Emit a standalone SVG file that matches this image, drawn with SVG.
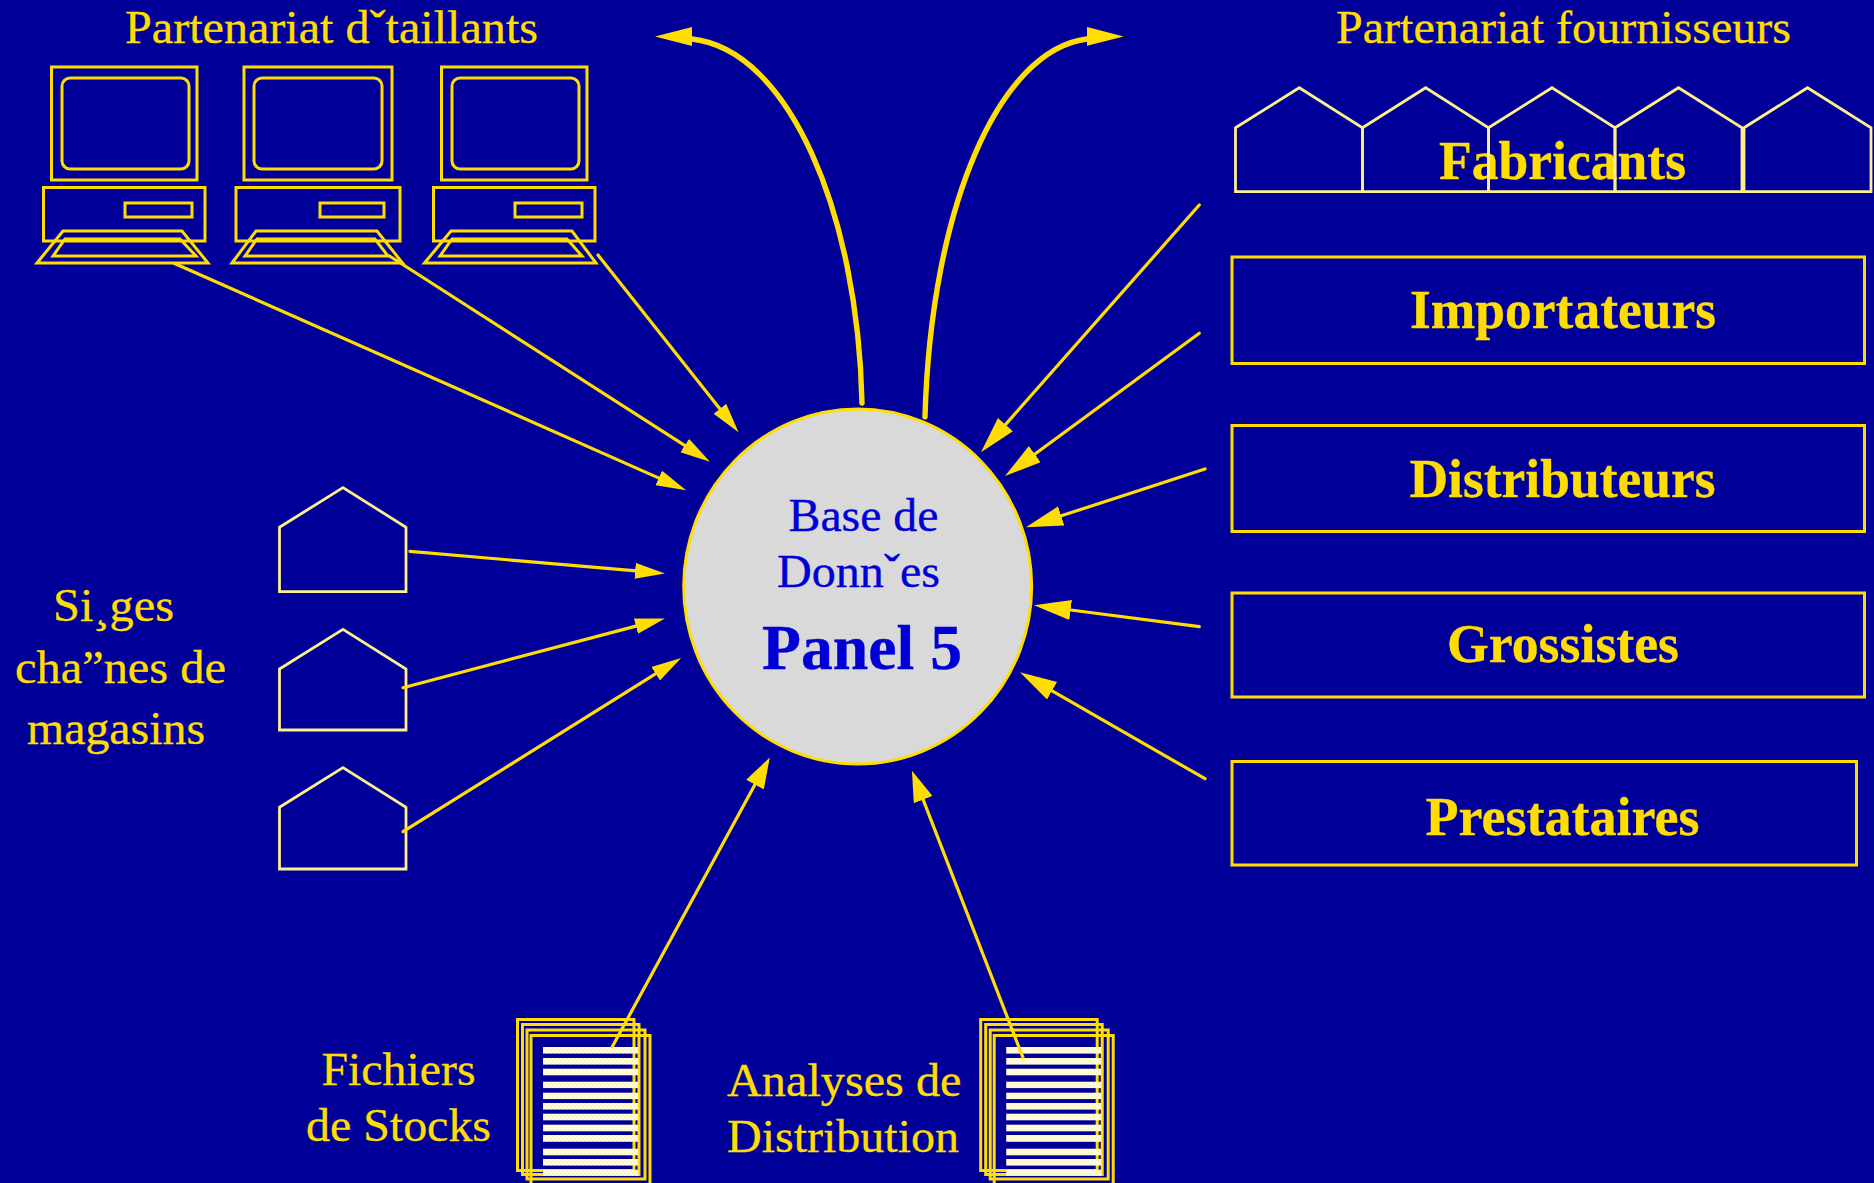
<svg xmlns="http://www.w3.org/2000/svg" xmlns:xlink="http://www.w3.org/1999/xlink" width="1874" height="1183" viewBox="0 0 1874 1183">
<style>
text{font-family:"Liberation Serif","Times New Roman",serif;fill:#FFDD00;stroke:#FFDD00;stroke-width:.35;font-size:47px}
.b{font-weight:bold;font-size:54px}
.blue{fill:#0000D6;stroke:#0000D6}
.o{fill:none;stroke:#FFDD00;stroke-width:3}
.h{fill:none;stroke:#FFEE8C;stroke-width:2.8}
.c{fill:none;stroke:#FFDD00;stroke-width:3.2;stroke-linecap:round}
.s{marker-end:url(#hs)}
.m{marker-end:url(#hm)}
.l{marker-end:url(#hl)}
.arc{fill:none;stroke:#FFDD00;stroke-width:5.4;stroke-linecap:round}
</style>
<defs>
<marker id="hs" markerUnits="userSpaceOnUse" markerWidth="32" markerHeight="18" refX="4" refY="8" orient="auto"><path d="M0 0L30 8L0 16Z" fill="#FFDD00"/></marker>
<marker id="hm" markerUnits="userSpaceOnUse" markerWidth="34" markerHeight="22" refX="4" refY="10" orient="auto"><path d="M0 0L31 10L0 20Z" fill="#FFDD00"/></marker>
<marker id="hl" markerUnits="userSpaceOnUse" markerWidth="39" markerHeight="22" refX="4" refY="10" orient="auto"><path d="M0 0L37 10L0 20Z" fill="#FFDD00"/></marker>
<marker id="al" markerUnits="userSpaceOnUse" markerWidth="39" markerHeight="21" refX="0" refY="6.9" orient="180"><path d="M0 0L37 9.5L0 19Z" fill="#FFDD00"/></marker>
<marker id="ar" markerUnits="userSpaceOnUse" markerWidth="39" markerHeight="21" refX="0" refY="12.1" orient="0"><path d="M0 0L37 9.5L0 19Z" fill="#FFDD00"/></marker>
<pattern id="dither" patternUnits="userSpaceOnUse" width="4" height="4"><rect width="4" height="4" fill="#FFFFF0"/><rect x="0" y="0" width="2" height="2" fill="#FFF6B8"/><rect x="2" y="2" width="2" height="2" fill="#FFF6B8"/></pattern>
<g id="stack">
<rect class="o" x="517.5" y="1019.5" width="116.5" height="151"/>
<rect class="o" x="522.5" y="1024.5" width="116.5" height="150"/>
<rect class="o" x="527" y="1030" width="118" height="149"/>
<rect class="o" x="531" y="1035.5" width="119" height="152"/>
<g fill="url(#dither)">
<rect x="543" y="1047" width="95" height="6.6"/><rect x="543" y="1058" width="95" height="6.6"/><rect x="543" y="1068.7" width="95" height="6.6"/><rect x="543" y="1081.7" width="95" height="6.4"/><rect x="543" y="1092.7" width="95" height="6.4"/><rect x="543" y="1103" width="95" height="6.6"/><rect x="543" y="1113.7" width="95" height="6.6"/><rect x="543" y="1124.7" width="95" height="6.6"/><rect x="543" y="1135" width="95" height="6.8"/><rect x="543" y="1148.7" width="95" height="6.6"/><rect x="543" y="1159" width="95" height="6.6"/><rect x="543" y="1169.7" width="95" height="6"/>
</g>
</g>
</defs>
<rect id="background" width="1874" height="1183" fill="#000099"/>
<g id="title-detaillants"><text x="125" y="42.7" textLength="413" lengthAdjust="spacingAndGlyphs">Partenariat dˇtaillants</text></g>
<g id="title-fournisseurs"><text x="1336" y="43" textLength="455" lengthAdjust="spacingAndGlyphs">Partenariat fournisseurs</text></g>
<g id="computer-1">
<rect class="o" x="51.5" y="67" width="145.5" height="113"/>
<rect class="o" x="62" y="78" width="127" height="91" rx="8"/>
<rect class="o" x="43.5" y="187.5" width="161.5" height="53.5"/>
<rect class="o" x="125" y="203" width="67" height="14"/>
<path class="o" d="M37 263L63 231H182L208 263Z"/>
<path class="o" d="M53 256L65 239H180L196 256Z"/>
</g>
<g id="computer-2">
<rect class="o" x="244" y="67" width="148" height="113"/>
<rect class="o" x="254" y="78" width="128" height="91" rx="8"/>
<rect class="o" x="236" y="187.5" width="164" height="53.5"/>
<rect class="o" x="320" y="203" width="64" height="14"/>
<path class="o" d="M232 263L256 231H377L402.5 263Z"/>
<path class="o" d="M245 256L257 239H375L388 256Z"/>
</g>
<g id="computer-3">
<rect class="o" x="441.5" y="67" width="145.5" height="113"/>
<rect class="o" x="452" y="78" width="127" height="91" rx="8"/>
<rect class="o" x="433.5" y="187.5" width="161.5" height="53.5"/>
<rect class="o" x="515" y="203" width="67" height="14"/>
<path class="o" d="M424.5 263L451 231H572L596 263Z"/>
<path class="o" d="M440 256L452 239H567L582 256Z"/>
</g>
<g id="fabricants">
<text class="b" x="1439" y="178.6" textLength="247" lengthAdjust="spacingAndGlyphs">Fabricants</text>
<polygon class="h" points="1235.5,127.7 1299.3,87.7 1362.5,127.7 1362.5,191.7 1235.5,191.7"/>
<polygon class="h" points="1362.5,127.7 1425.7,87.7 1488.5,127.7 1488.5,191.7 1362.5,191.7"/>
<polygon class="h" points="1488.5,127.7 1552,87.7 1615,127.7 1615,191.7 1488.5,191.7"/>
<polygon class="h" points="1615,127.7 1678.5,87.7 1742,127.7 1742,191.7 1615,191.7"/>
<polygon class="h" points="1744,127.7 1807.5,87.7 1871,127.7 1871,191.7 1744,191.7"/>
</g>
<g id="importateurs"><rect class="o" x="1232" y="257" width="632.5" height="106.5"/><text class="b" x="1410" y="327.6" textLength="306" lengthAdjust="spacingAndGlyphs">Importateurs</text></g>
<g id="distributeurs"><rect class="o" x="1232" y="425.5" width="632.5" height="106"/><text class="b" x="1409.5" y="496.5" textLength="306" lengthAdjust="spacingAndGlyphs">Distributeurs</text></g>
<g id="grossistes"><rect class="o" x="1232" y="593" width="632.5" height="104"/><text class="b" x="1447" y="661.5" textLength="232" lengthAdjust="spacingAndGlyphs">Grossistes</text></g>
<g id="prestataires"><rect class="o" x="1232" y="761.5" width="624.5" height="103.5"/><text class="b" x="1425.5" y="835" textLength="274" lengthAdjust="spacingAndGlyphs">Prestataires</text></g>
<g id="sieges-label">
<text x="53" y="621" textLength="121" lengthAdjust="spacingAndGlyphs">Si¸ges</text>
<text x="15" y="682.7" textLength="211" lengthAdjust="spacingAndGlyphs">cha”nes de</text>
<text x="27" y="744" textLength="178" lengthAdjust="spacingAndGlyphs">magasins</text>
</g>
<g id="siege-1"><polygon class="h" points="279.5,527.3 343,487.6 406,527.3 406,591.7 279.5,591.7"/></g>
<g id="siege-2"><polygon class="h" points="279.5,669 343,629.3 406,669 406,730 279.5,730"/></g>
<g id="siege-3"><polygon class="h" points="279.5,807.3 343,767.6 406,807.3 406,869 279.5,869"/></g>
<g id="base-de-donnees">
<ellipse cx="857.7" cy="586.5" rx="174" ry="177.5" fill="#D9D9D9" stroke="#FFDD00" stroke-width="3"/>
<text class="blue" x="788.5" y="530.7" textLength="150" lengthAdjust="spacingAndGlyphs">Base de</text>
<text class="blue" x="777" y="587" textLength="163" lengthAdjust="spacingAndGlyphs">Donnˇes</text>
<text class="blue b" style="font-size:63px" x="762" y="669" textLength="200" lengthAdjust="spacingAndGlyphs">Panel 5</text>
</g>
<g id="stocks">
<text x="321.5" y="1085" textLength="154" lengthAdjust="spacingAndGlyphs">Fichiers</text>
<text x="306" y="1141" textLength="185" lengthAdjust="spacingAndGlyphs">de Stocks</text>
<use href="#stack" xlink:href="#stack"/>
</g>
<g id="analyses">
<text x="727" y="1096" textLength="234.5" lengthAdjust="spacingAndGlyphs">Analyses de</text>
<text x="727" y="1151.7" textLength="232" lengthAdjust="spacingAndGlyphs">Distribution</text>
<use href="#stack" xlink:href="#stack" transform="translate(463.2 0)"/>
</g>
<g id="connectors">
<line class="c s" x1="174" y1="263.3" x2="662.4" y2="479.6"/>
<line class="c s" x1="389.5" y1="256" x2="688.1" y2="447.7"/>
<line class="c s" x1="598" y1="255" x2="722.4" y2="411.9"/>
<line class="c s" x1="410" y1="551.3" x2="639.1" y2="571.2"/>
<line class="c s" x1="403" y1="687.7" x2="639.8" y2="625.1"/>
<line class="c s" x1="403" y1="831.7" x2="659.1" y2="671.7"/>
<line class="c m" x1="612.3" y1="1046.7" x2="756.9" y2="781.1"/>
<line class="c m" x1="1023" y1="1057.7" x2="921.7" y2="795.9"/>
<line class="c l" x1="1199.3" y1="205" x2="1002.8" y2="427.6"/>
<line class="c l" x1="1199.3" y1="333.3" x2="1031.6" y2="456.5"/>
<line class="c l" x1="1205" y1="469" x2="1057.4" y2="517.1"/>
<line class="c l" x1="1199.3" y1="626.7" x2="1066.7" y2="609.5"/>
<line class="c l" x1="1205" y1="778.7" x2="1048.6" y2="688.8"/>
<path class="arc" style="marker-end:url(#al)" d="M862 403C858 215 790 50 692 39"/>
<path class="arc" style="marker-end:url(#ar)" d="M925 416.7C931 205 1000 50 1086.7 39"/>
</g>
</svg>
